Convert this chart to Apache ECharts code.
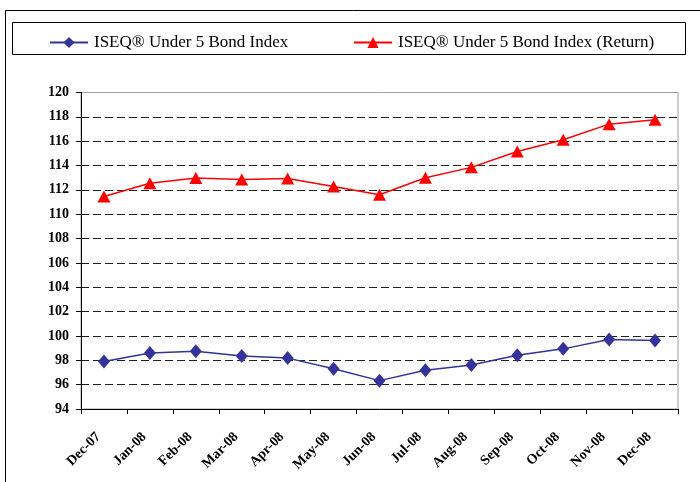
<!DOCTYPE html>
<html><head><meta charset="utf-8">
<script src="https://cdn.jsdelivr.net/npm/echarts@6/dist/echarts.min.js"></script>
<style>html,body{margin:0;padding:0;background:#fff}#c{width:700px;height:482px}</style>
</head><body><div id="c"></div>
<script>
const categories = ['Dec-07','Jan-08','Feb-08','Mar-08','Apr-08','May-08','Jun-08','Jul-08','Aug-08','Sep-08','Oct-08','Nov-08','Dec-08'];
const indexName = 'ISEQ\u00AE Under 5 Bond Index';
const returnName = 'ISEQ\u00AE Under 5 Bond Index (Return)';
const indexValues = [97.9, 98.6, 98.75, 98.36, 98.18, 97.3, 96.33, 97.19, 97.62, 98.42, 98.94, 99.71, 99.63];
const returnValues = [111.45, 112.55, 112.97, 112.85, 112.93, 112.28, 111.6, 113.0, 113.85, 115.15, 116.12, 117.4, 117.76];
const yMin = 94, yMax = 120, yStep = 2;

const chart = echarts.init(document.getElementById('c'), null, {renderer: 'canvas'});
const serif = 'Liberation Serif, Times New Roman, serif';
chart.setOption({
  animation: false,
  backgroundColor: '#fff',
  graphic: [
    {type: 'rect', shape: {x: 5.5, y: 10.5, width: 720, height: 500}, style: {fill: 'none', stroke: '#000', lineWidth: 1}, z: -1},
    {type: 'rect', shape: {x: 12.5, y: 22.5, width: 673, height: 32}, style: {fill: 'none', stroke: '#000', lineWidth: 1}, z: -1}
  ],
  legend: [
    {data: [indexName], left: 44, top: 29, itemWidth: 38, itemHeight: 14, itemGap: 0,
     textStyle: {fontFamily: serif, fontSize: 17, color: '#000', padding: [0, 0, 0, 1]}},
    {data: [returnName], left: 348, top: 29, itemWidth: 38, itemHeight: 14, itemGap: 0,
     textStyle: {fontFamily: serif, fontSize: 17, color: '#000', padding: [0, 0, 0, 1]}}
  ],
  grid: {left: 81, top: 92.5, right: 22, bottom: 73, show: true, borderColor: '#A0A0A0', borderWidth: 1},
  xAxis: {
    type: 'category', data: categories, boundaryGap: true,
    axisLine: {lineStyle: {color: '#000', width: 1}},
    axisTick: {show: true, length: 5, interval: 0, lineStyle: {color: '#000'}},
    axisLabel: {rotate: 45, interval: 0, margin: 20, padding: [0, 8, 14, 0], fontFamily: serif, fontSize: 14, fontWeight: 'bold', color: '#000'}
  },
  yAxis: {
    type: 'value', min: yMin, max: yMax, interval: yStep,
    axisLine: {show: true, lineStyle: {color: '#000', width: 1}},
    axisTick: {show: true, length: 5, lineStyle: {color: '#000'}},
    axisLabel: {margin: 12, fontFamily: serif, fontSize: 14, fontWeight: 'bold', color: '#000'},
    splitLine: {show: true, showMinLine: false, showMaxLine: false, lineStyle: {color: '#222', width: 1, type: [8, 4]}}
  },
  series: [
    {name: indexName, type: 'line', data: indexValues, symbol: 'diamond', symbolSize: [12, 14],
     itemStyle: {color: '#333399'}, lineStyle: {color: '#333399', width: 1.5}},
    {name: returnName, type: 'line', data: returnValues, symbol: 'triangle', symbolSize: [13, 12],
     itemStyle: {color: '#FF0000'}, lineStyle: {color: '#FF0000', width: 1.5}}
  ]
});
</script></body></html>
